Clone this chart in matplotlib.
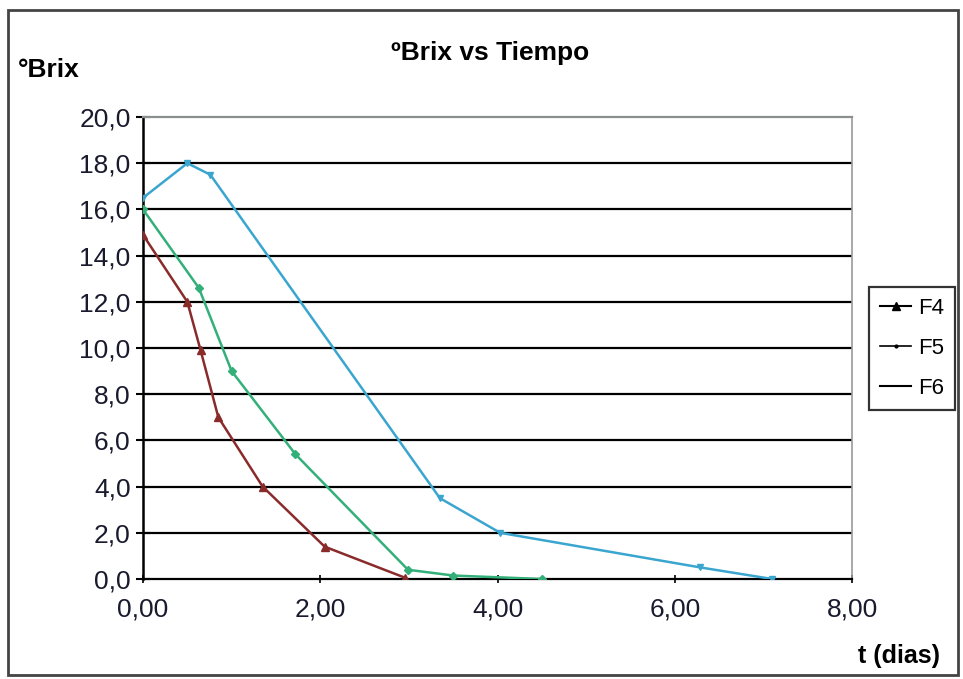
import matplotlib
matplotlib.use('Agg')
import matplotlib.pyplot as plt
from matplotlib.lines import Line2D
from matplotlib.patches import Rectangle
from matplotlib.ticker import FuncFormatter
import numpy as np

# ------------------------------
# data
# ------------------------------
t_f4 = [0.00, 0.50, 0.65, 0.85, 1.35, 2.05, 2.96]
brix_f4 = [14.9, 12.0, 9.9, 7.0, 4.0, 1.4, 0.05]

t_f5 = [0.00, 0.63, 1.00, 1.72, 2.99, 3.50, 4.50]
brix_f5 = [16.0, 12.6, 9.0, 5.4, 0.4, 0.15, 0.0]

t_f6 = [0.00, 0.50, 0.76, 3.35, 4.03, 6.29, 7.10]
brix_f6 = [16.5, 18.0, 17.5, 3.5, 2.0, 0.5, 0.0]

yticks = np.arange(0, 21, 2)
xticks = np.arange(0, 9, 2)

c_f4 = '#8a2b2b'
c_f5 = '#33b07a'
c_f6 = '#3aa6cf'

plt.rcParams['font.family'] = ['Liberation Sans', 'DejaVu Sans']

fig = plt.figure(figsize=(9.63, 6.79), dpi=100)
ax = fig.add_axes([143/963, 1-579/679, (852-143)/963, (579-117)/679])

# horizontal grid
for yv in yticks[1:-1]:
    ax.axhline(yv, color='black', lw=1.6, zorder=1)

ax.plot(t_f4, brix_f4, color=c_f4, lw=1.8, marker='^', ms=6, zorder=3)
ax.plot(t_f5, brix_f5, color=c_f5, lw=1.8, marker='D', ms=4, zorder=3)
ax.plot(t_f6, brix_f6, color=c_f6, lw=1.8, marker='v', ms=4, zorder=3)

ax.set_xlim(0, 8)
ax.set_ylim(0, 20)
ax.set_yticks(yticks)
ax.set_xticks(xticks)
ax.yaxis.set_major_formatter(FuncFormatter(lambda v, p: f'{v:.1f}'.replace('.', ',')))
ax.xaxis.set_major_formatter(FuncFormatter(lambda v, p: f'{v:.2f}'.replace('.', ',')))
ax.tick_params(axis='y', direction='inout', length=10, width=1.5, labelsize=19, pad=4, colors='black')
ax.tick_params(axis='x', direction='inout', length=6, width=1.2, labelsize=19, pad=10, colors='black')
for lab in ax.get_xticklabels() + ax.get_yticklabels():
    lab.set_color('#1a1a2e')

ax.spines['left'].set_color('black')
ax.spines['left'].set_linewidth(1.8)
ax.spines['bottom'].set_color('black')
ax.spines['bottom'].set_linewidth(1.6)
ax.spines['top'].set_color('#8a9090')
ax.spines['top'].set_linewidth(1.6)
ax.spines['right'].set_color('#9a9a9a')
ax.spines['right'].set_linewidth(1.2)

# titles
fig.text(490/963, 1-53/679, 'ºBrix vs Tiempo', ha='center', va='center',
         fontsize=19, fontweight='bold')
fig.text(18/963, 1-70/679, '°Brix', ha='left', va='center',
         fontsize=19, fontweight='bold')
fig.text(940/963, 1-656/679, 't (dias)', ha='right', va='center',
         fontsize=18, fontweight='bold')

# legend
handles = [Line2D([], [], color='black', lw=1.5, marker='^', ms=6),
           Line2D([], [], color='black', lw=1.2, marker='.', ms=4),
           Line2D([], [], color='black', lw=1.5)]
leg = fig.legend(handles, ['F4', 'F5', 'F6'], loc='upper left',
                 bbox_to_anchor=(869/963, 1-287/679), fontsize=16,
                 frameon=True, fancybox=False, handlelength=1.4,
                 handletextpad=0.3, borderpad=0.5, labelspacing=0.85,
                 borderaxespad=0)
leg.get_frame().set_edgecolor('black')
leg.get_frame().set_linewidth(1.6)

# outer frame of the chart
fig.patches.append(Rectangle((8/963, 4/679), (958-8)/963, (669-4)/679,
                             transform=fig.transFigure, fill=False,
                             edgecolor='#444444', lw=2))

fig.savefig('out.png', dpi=100)
